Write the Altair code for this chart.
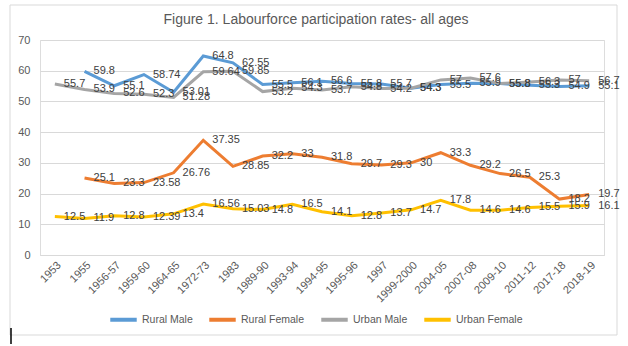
import altair as alt
import pandas as pd

categories = ["1953", "1955", "1956-57", "1959-60", "1964-65", "1972-73", "1983",
              "1989-90", "1993-94", "1994-95", "1995-96", "1997", "1999-2000",
              "2004-05", "2007-08", "2009-10", "2011-12", "2017-18", "2018-19"]

rural_male = [None, 59.8, 55.1, 58.74, 53.01, 64.8, 62.55, 55.5, 56.1, 56.6, 55.8,
              55.7, 54.3, 55.5, 55.9, 55.8, 55.3, 54.9, 55.1]
rural_female = [None, 25.1, 23.3, 23.58, 26.76, 37.35, 28.85, 32.2, 33, 31.8, 29.7,
                29.3, 30, 33.3, 29.2, 26.5, 25.3, 18.2, 19.7]
urban_male = [55.7, 53.9, 52.6, 52.3, 51.28, 59.64, 59.85, 53.2, 54.3, 53.7, 54.8,
              54.2, 54.3, 57, 57.6, 55.8, 56.3, 57, 56.7]
urban_female = [12.5, 11.9, 12.8, 12.39, 13.4, 16.56, 15.03, 14.8, 16.5, 14.1, 12.8,
                13.7, 14.7, 17.8, 14.6, 14.6, 15.5, 15.9, 16.1]

series_names = ["Rural Male", "Rural Female", "Urban Male", "Urban Female"]
series_colors = ["#5B9BD5", "#ED7D31", "#A5A5A5", "#FFC000"]
series_values = [rural_male, rural_female, urban_male, urban_female]

title_text = "Figure 1. Labourforce participation rates- all ages"

rows = []
for name, vals in zip(series_names, series_values):
    for cat, v in zip(categories, vals):
        if v is not None:
            rows.append({"year": cat, "series": name, "value": v})
df = pd.DataFrame(rows)

FONT = "Liberation Sans"

x_enc = alt.X("year:N", sort=categories,
              scale=alt.Scale(type="point", padding=0.5),
              axis=alt.Axis(title=None, labelAngle=-45, labelAlign="right",
                            labelBaseline="top", ticks=False, domain=True,
                            domainColor="#d9d9d9", labelPadding=4,
                            labelFontSize=11, labelColor="#595959", labelFont=FONT))
y_enc = alt.Y("value:Q", scale=alt.Scale(domain=[0, 70], nice=False),
              axis=alt.Axis(title=None, values=list(range(0, 71, 10)), domain=False,
                            ticks=False, grid=True, gridColor="#d9d9d9",
                            labelPadding=10, labelFontSize=11, labelColor="#595959",
                            labelFont=FONT, labelOverlap=False))
color_enc = alt.Color("series:N",
                      scale=alt.Scale(domain=series_names, range=series_colors),
                      legend=alt.Legend(title=None, orient="none", direction="horizontal",
                                        legendX=68, legendY=264,
                                        symbolType="stroke", symbolSize=700,
                                        symbolStrokeWidth=4, labelOffset=3,
                                        columnPadding=8, gridAlign="each",
                                        labelFontSize=10.5,
                                        labelColor="#595959", labelFont=FONT))

base = alt.Chart(df)

lines = base.mark_line(strokeWidth=3).encode(
    x=x_enc, y=y_enc, color=color_enc, detail="series:N"
)

labels = base.mark_text(align="left", baseline="middle", dx=9, fontSize=11,
                        font=FONT, color="#404040").encode(
    x=x_enc, y=y_enc,
    text=alt.Text("value:Q"), detail="series:N"
)

one = pd.DataFrame({"t": [title_text]})
frame = alt.Chart(one).mark_rect(fill=None, stroke="#d9d9d9", strokeWidth=1).encode(
    x=alt.value(-30), x2=alt.value(577), y=alt.value(-35), y2=alt.value(295)
)
cursor = alt.Chart(one).mark_rule(color="#000000", strokeWidth=1.5).encode(
    x=alt.value(-29), y=alt.value(288), y2=alt.value(304)
)
title = alt.Chart(one).mark_text(fontSize=14, font=FONT, color="#595959",
                                 align="center", baseline="middle").encode(
    x=alt.value(276), y=alt.value(-20), text="t:N"
)

chart = alt.layer(frame, lines, labels, cursor, title).properties(
    width=564, height=215,
    autosize=alt.AutoSizeParams(type="none"),
    padding={"left": 40, "top": 40, "right": 24, "bottom": 91},
).configure_view(stroke=None).configure(background="white")

chart.save("out.html", embed_options={"renderer": "svg", "actions": False})
